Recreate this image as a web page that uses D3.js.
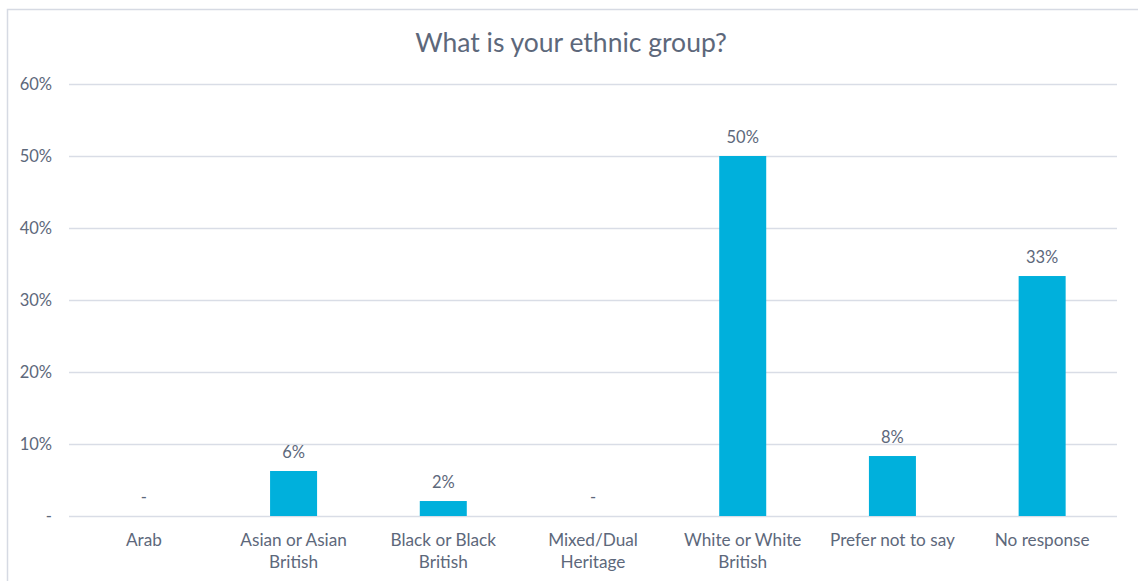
<!DOCTYPE html>
<html>
<head>
<meta charset="utf-8">
<script src="https://cdn.jsdelivr.net/npm/d3@7"></script>
<style>
  html, body { margin: 0; padding: 0; background: #ffffff; }
  svg { display: block; }
  text { font-family: Lato, "Open Sans", sans-serif; }
</style>
</head>
<body>
<svg id="chart" width="1138" height="581"></svg>
<script>
const title = "What is your ethnic group?";
const categories = ["Arab", "Asian or Asian\nBritish", "Black or Black\nBritish", "Mixed/Dual\nHeritage", "White or White\nBritish", "Prefer not to say", "No response"];
const values = [0, 6.25, 2.08, 0, 50, 8.33, 33.33];
const yTicks = [0, 10, 20, 30, 40, 50, 60];

const W = 1138, H = 581;
const margin = { left: 69, right: 21, top: 84, bottom: 65 };
const svg = d3.select("#chart");

const textColor = "#5d687b";
const gridColor = "#d9dde6";
const barColor = "#00b0dc";

// outer frame
svg.append("path")
  .attr("d", `M7.5,${H} L7.5,9.5 L${W},9.5`)
  .attr("fill", "none")
  .attr("stroke", "#d6dae3")
  .attr("stroke-width", 1.5);

const x = d3.scaleBand()
  .domain(categories)
  .range([margin.left, W - margin.right])
  .paddingInner(0.686)
  .paddingOuter(0.343);

const y = d3.scaleLinear()
  .domain([0, 60])
  .range([H - margin.bottom, margin.top]);

const fmtPct = v => v === 0 ? "-" : Math.round(v) + "%";

// gridlines + y labels via axis
const yAxis = d3.axisLeft(y)
  .tickValues(yTicks)
  .tickSize(-(W - margin.right - margin.left))
  .tickPadding(17)
  .tickFormat(fmtPct);

const gy = svg.append("g")
  .attr("transform", `translate(${margin.left},0)`)
  .call(yAxis);
gy.select(".domain").remove();
gy.selectAll(".tick line").attr("stroke", gridColor).attr("stroke-width", 1.5);
gy.selectAll(".tick text")
  .attr("fill", textColor)
  .attr("font-size", 16.5)
  .attr("font-family", "Lato, 'Open Sans', sans-serif");

// bars
svg.append("g").selectAll("rect")
  .data(values)
  .join("rect")
  .attr("x", (d, i) => x(categories[i]))
  .attr("width", x.bandwidth())
  .attr("y", d => y(d))
  .attr("height", d => y(0) - y(d))
  .attr("fill", barColor);

// data labels
svg.append("g").selectAll("text")
  .data(values)
  .join("text")
  .attr("x", (d, i) => x(categories[i]) + x.bandwidth() / 2)
  .attr("y", d => y(d) - 13)
  .attr("text-anchor", "middle")
  .attr("fill", textColor)
  .attr("font-size", 16.5)
  .text(d => fmtPct(d));

// x axis labels
const gx = svg.append("g")
  .attr("transform", `translate(0,${H - margin.bottom})`)
  .call(d3.axisBottom(x).tickSize(0).tickPadding(0).tickFormat(""));
gx.select(".domain").remove();
gx.selectAll(".tick").each(function(d) {
  const t = d3.select(this).append("text")
    .attr("text-anchor", "middle")
    .attr("fill", textColor)
    .attr("font-size", 17.2)
    .attr("y", 30);
  d.split("\n").forEach((line, k) => {
    t.append("tspan").attr("x", 0).attr("dy", k === 0 ? 0 : 22).text(line);
  });
});

// title
svg.append("text")
  .attr("x", 571)
  .attr("y", 52)
  .attr("text-anchor", "middle")
  .attr("fill", textColor)
  .attr("font-size", 26.5)
  .text(title);
</script>
</body>
</html>
